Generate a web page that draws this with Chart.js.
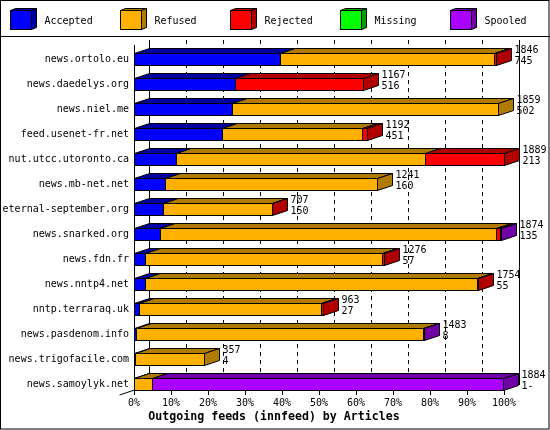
<!DOCTYPE html>
<html>
<head>
<meta charset="utf-8">
<title>Outgoing feeds (innfeed) by Articles</title>
<script src="https://cdn.jsdelivr.net/npm/chart.js@4.4.1/dist/chart.umd.min.js"></script>
<style>
  html, body { margin: 0; padding: 0; background: #fff; }
  #chart { display: block; }
</style>
</head>
<body>
<canvas id="chart" width="550" height="430"></canvas>
<script>
// feeds, top to bottom
const feeds = ['news.ortolo.eu', 'news.daedelys.org', 'news.niel.me', 'feed.usenet-fr.net',
  'nut.utcc.utoronto.ca', 'news.mb-net.net', 'eternal-september.org', 'news.snarked.org',
  'news.fdn.fr', 'news.nntp4.net', 'nntp.terraraq.uk', 'news.pasdenom.info',
  'news.trigofacile.com', 'news.samoylyk.net'];

// articles per feed and status
const accepted = [745, 516, 502, 451, 213, 160, 150, 135, 57, 55, 27, 8, 4, 1];
const refused  = [1094, 0, 1357, 715, 1273, 1081, 554, 1713, 1211, 1696, 928, 1470, 353, 91];
const rejected = [7, 651, 0, 26, 403, 0, 3, 20, 8, 3, 8, 0, 0, 0];
const missing  = [0, 0, 0, 0, 0, 0, 0, 0, 0, 0, 0, 0, 0, 0];
const spooled  = [0, 0, 0, 0, 0, 0, 0, 6, 0, 0, 0, 5, 0, 1792];

// second label line as printed next to each bar
const acceptedText = ['745', '516', '502', '451', '213', '160', '150', '135', '57', '55', '27', '8', '4', '1-'];

const seriesNames = ['Accepted', 'Refused', 'Rejected', 'Missing', 'Spooled'];
const pctStep = 10;

const fronts = ['#0000ff', '#ffb000', '#ff0000', '#00ff00', '#aa00ff'];
const shades = ['#0000a0', '#b07b00', '#b00000', '#00a000', '#7000a8'];

const DX = 15, DY = 5;
const FONT = '"DejaVu Sans Mono", "Liberation Mono", monospace';

const series = [accepted, refused, rejected, missing, spooled];
const totals = feeds.map((f, i) => series.reduce((s, arr) => s + arr[i], 0));
const maxTotal = Math.max(...totals);

const px = v => Math.round(v) + 0.5;

function line(ctx, x1, y1, x2, y2) {
  ctx.beginPath();
  ctx.moveTo(x1, y1);
  ctx.lineTo(x2, y2);
  ctx.stroke();
}

function poly(ctx, pts, fill) {
  ctx.beginPath();
  ctx.moveTo(pts[0][0], pts[0][1]);
  for (let k = 1; k < pts.length; k++) ctx.lineTo(pts[k][0], pts[k][1]);
  ctx.closePath();
  ctx.fillStyle = fill;
  ctx.fill();
  ctx.stroke();
}

const bars3d = {
  id: 'bars3d',
  beforeDraw(chart) {
    const ctx = chart.ctx;
    ctx.save();
    ctx.fillStyle = '#fff';
    ctx.fillRect(0, 0, chart.width, chart.height);
    ctx.restore();
  },
  beforeDatasetsDraw(chart) {
    const ctx = chart.ctx, xs = chart.scales.x;
    const top = 40, bottom = 390;
    ctx.save();
    ctx.strokeStyle = '#000';
    ctx.fillStyle = '#000';
    ctx.lineWidth = 1;
    // back wall: solid ends, dashed grid in between
    for (let v = 0; v <= 100; v += pctStep) {
      const bx = px(xs.getPixelForValue(v)) + DX;
      if (v === 0 || v === 100) {
        line(ctx, bx, top, bx, bottom - DY);
      } else {
        for (let y = top; y < bottom - DY; y += 8) {
          ctx.fillRect(bx - 0.5, y, 1, Math.min(4, bottom - DY - y));
        }
      }
    }
    const fx = px(xs.getPixelForValue(0));
    line(ctx, fx, top + DY, fx, bottom);
    for (let v = 0; v <= 100; v += pctStep) {
      const tx = px(xs.getPixelForValue(v));
      line(ctx, tx, bottom, tx, bottom + 5);
    }
    line(ctx, fx - DX, bottom + 5, fx, bottom);
    ctx.restore();
  },
  afterDatasetsDraw(chart) {
    const ctx = chart.ctx;
    const metas = chart.data.datasets.map((d, k) => chart.getDatasetMeta(k));
    ctx.save();
    ctx.strokeStyle = '#000';
    ctx.lineWidth = 1;
    ctx.font = '10px ' + FONT;
    ctx.textBaseline = 'middle';
    ctx.textAlign = 'left';
    feeds.forEach((f, i) => {
      let last = -1, endX = null, t = null, b = null, cy = null;
      metas.forEach((meta, k) => {
        const el = meta.data[i];
        if (!el || series[k][i] <= 0) return;
        const p = el.getProps(['x', 'base', 'y', 'height'], true);
        cy = p.y;
        t = Math.floor(p.y - p.height / 2) + 0.5;
        b = t + 12;
        const x0 = px(p.base), x1 = px(p.x);
        last = k;
        endX = x1;
        // front face, crisp outline
        ctx.fillStyle = fronts[k];
        ctx.fillRect(x0, t, x1 - x0, b - t);
        ctx.strokeRect(x0, t, x1 - x0, b - t);
        // top face
        poly(ctx, [[x0, t], [x0 + DX, t - DY], [x1 + DX, t - DY], [x1, t]], shades[k]);
      });
      if (last < 0) return;
      // side face in the colour of the last segment
      poly(ctx, [[endX, t], [endX + DX, t - DY], [endX + DX, b - DY], [endX, b]], shades[last]);
      ctx.fillStyle = '#000';
      ctx.fillText(String(totals[i]), endX + DX + 3, cy - 9);
      ctx.fillText(acceptedText[i], endX + DX + 3, cy + 2);
    });
    ctx.restore();
  },
  afterDraw(chart) {
    const ctx = chart.ctx;
    ctx.save();
    ctx.strokeStyle = '#000';
    ctx.lineWidth = 1;
    // frame and legend separator
    ctx.strokeRect(0.5, 0.5, chart.width - 1.5, chart.height - 1.5);
    line(ctx, 0, 36.5, chart.width, 36.5);
    // legend with little cubes
    ctx.font = '10px ' + FONT;
    ctx.textBaseline = 'middle';
    ctx.textAlign = 'left';
    seriesNames.forEach((name, k) => {
      const lx = 10.5 + k * 110, ly = 10.5;
      poly(ctx, [[lx, ly], [lx + 5, ly - 2], [lx + 26, ly - 2], [lx + 21, ly]], shades[k]);
      poly(ctx, [[lx + 21, ly], [lx + 26, ly - 2], [lx + 26, ly + 17], [lx + 21, ly + 19]], shades[k]);
      ctx.fillStyle = fronts[k];
      ctx.fillRect(lx, ly, 21, 19);
      ctx.strokeRect(lx, ly, 21, 19);
      ctx.fillStyle = '#000';
      ctx.fillText(name, lx + 34, 21);
    });
    // axis title
    ctx.font = 'bold 11.6px ' + FONT;
    ctx.textAlign = 'center';
    ctx.fillText('Outgoing feeds (innfeed) by Articles', 274, 417);
    ctx.restore();
  }
};

new Chart(document.getElementById('chart'), {
  type: 'bar',
  data: {
    labels: feeds,
    datasets: series.map((arr, k) => ({
      label: seriesNames[k],
      data: arr.map(v => v / maxTotal * 100),
      backgroundColor: fronts[k],
      borderWidth: 0,
      barThickness: 12
    }))
  },
  options: {
    indexAxis: 'y',
    responsive: false,
    animation: false,
    layout: { padding: { left: 0, top: 47, right: 46, bottom: 0 } },
    scales: {
      x: {
        stacked: true,
        min: 0,
        max: 100,
        grid: { display: false, drawTicks: false },
        border: { display: false },
        ticks: {
          stepSize: pctStep,
          padding: 0,
          color: '#000',
          font: { family: FONT, size: 10 },
          maxRotation: 0,
          autoSkip: false,
          callback: v => v + '%'
        },
        afterFit(s) { s.height = 33; }
      },
      y: {
        stacked: true,
        grid: { display: false, drawTicks: false },
        border: { display: false },
        ticks: {
          padding: 5,
          color: '#000',
          font: { family: FONT, size: 10 },
          autoSkip: false
        },
        afterFit(s) { s.width = 134; }
      }
    },
    plugins: {
      legend: { display: false },
      tooltip: { enabled: false },
      title: { display: false }
    }
  },
  plugins: [bars3d]
});
</script>
</body>
</html>
